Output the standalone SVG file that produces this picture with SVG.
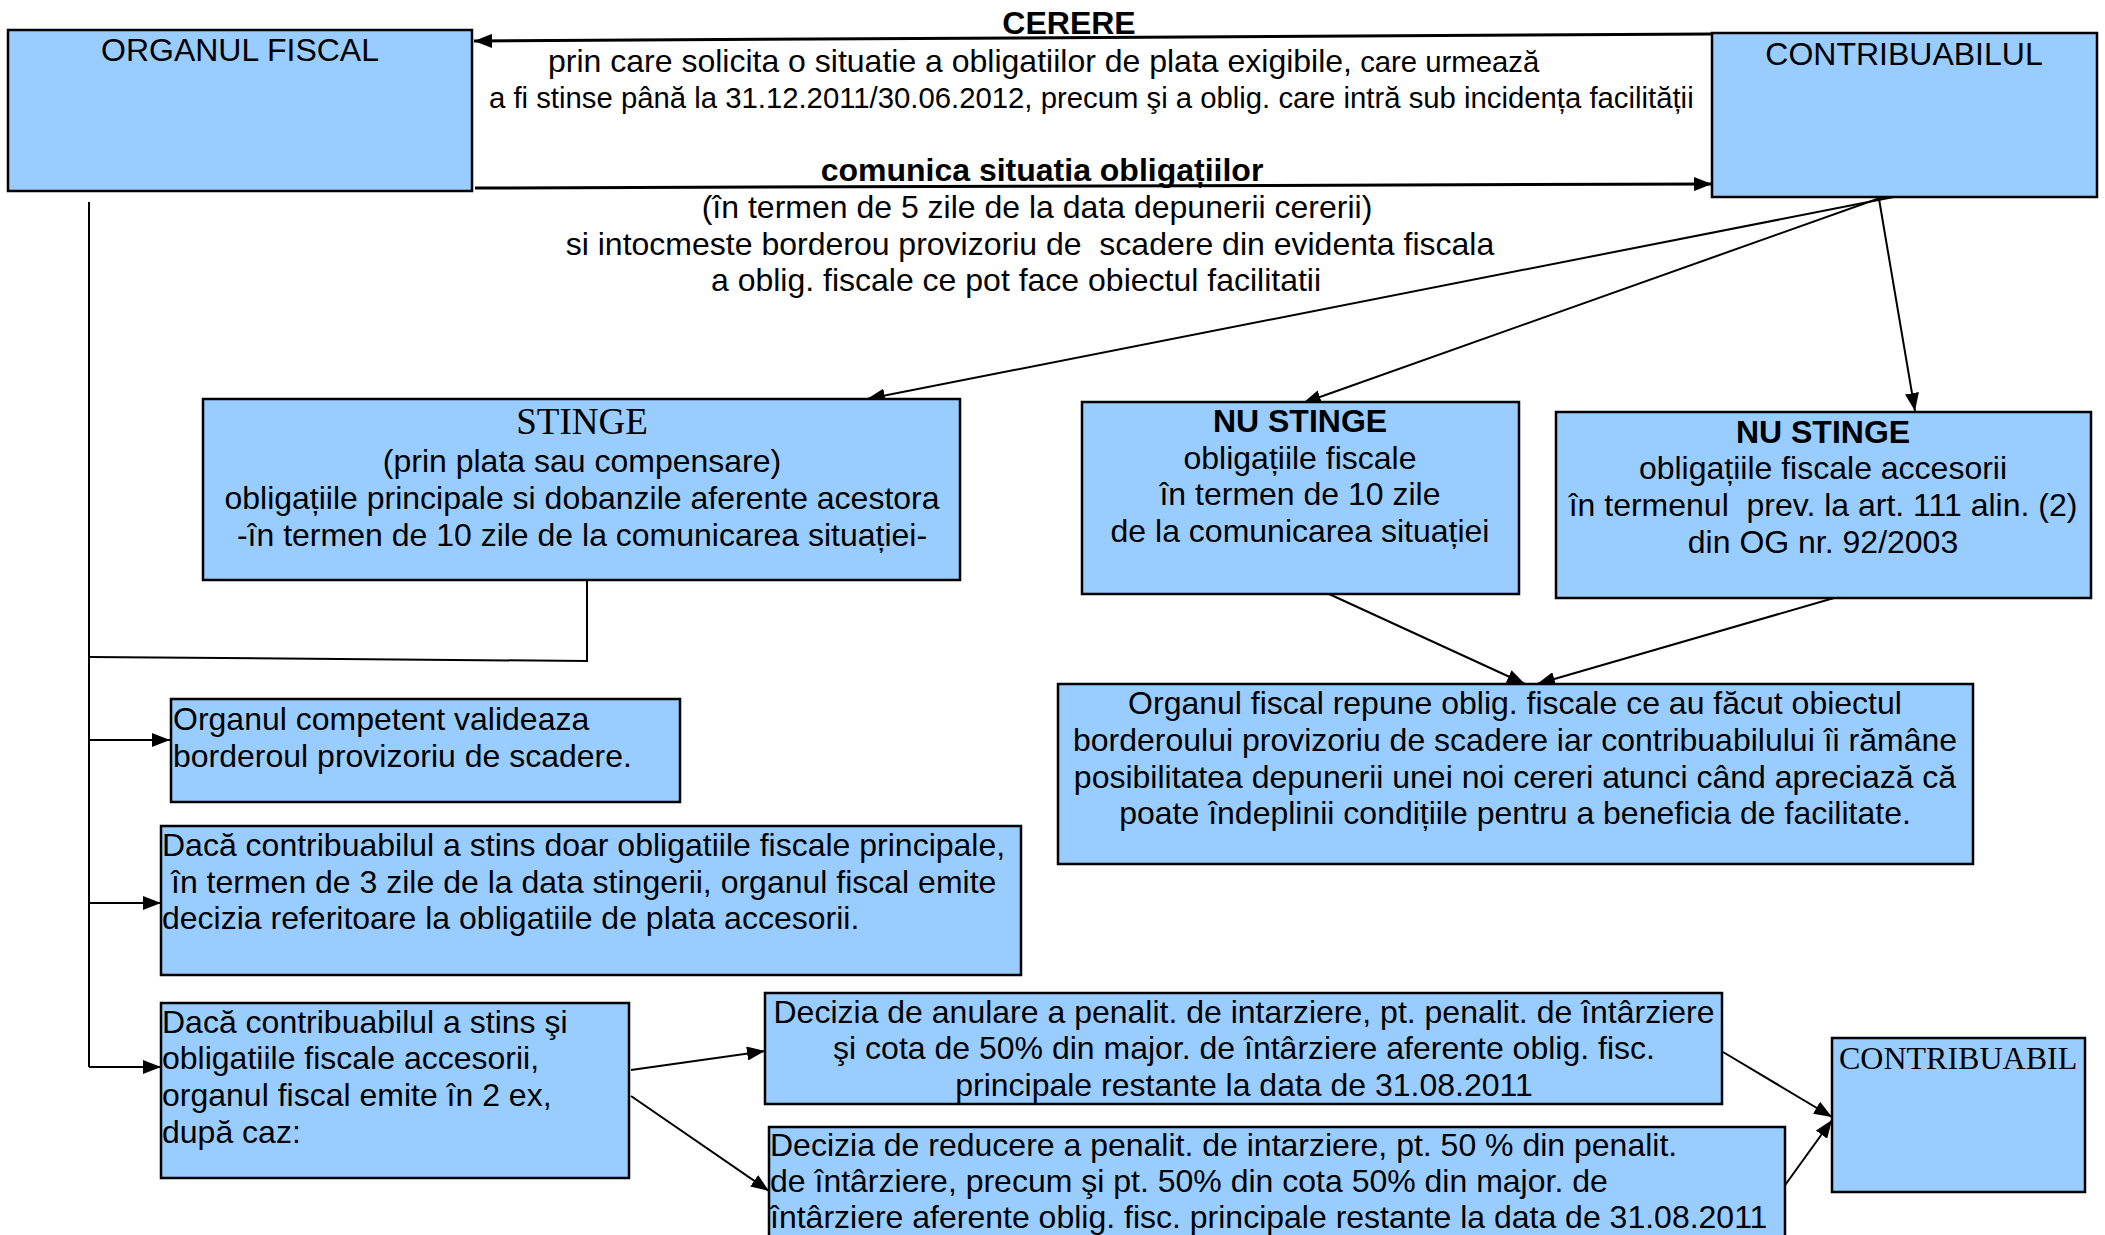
<svg xmlns="http://www.w3.org/2000/svg" width="2105" height="1235" viewBox="0 0 2105 1235">
<style>
.box{fill:#99CCFF;stroke:#000;stroke-width:2.5}
.t{font-family:"Liberation Sans",Arial,sans-serif;font-size:32px;fill:#000}
.c{text-anchor:middle}
.b{font-weight:bold}
.s{font-family:"Liberation Serif","Times New Roman",serif;fill:#000}
.sm{font-size:29.3px}
.ln{fill:none;stroke:#000;stroke-width:2}
.thk{stroke-width:3}
</style>
<defs>
<marker id="ah" markerUnits="userSpaceOnUse" markerWidth="18" markerHeight="14" refX="18" refY="7" viewBox="0 0 18 14" orient="auto">
<path d="M0,0 L18,7 L0,14 z" fill="#000"/>
</marker>
</defs>
<rect width="2105" height="1235" fill="#fff"/>

<g id="connectors">
<line class="ln thk" x1="1712" y1="34" x2="474" y2="41" marker-end="url(#ah)"/>
<line class="ln thk" x1="475" y1="188" x2="1712" y2="184" marker-end="url(#ah)"/>
<line class="ln" x1="1914" y1="193" x2="867" y2="399" marker-end="url(#ah)"/>
<line class="ln" x1="1894" y1="193" x2="1303" y2="403" marker-end="url(#ah)"/>
<line class="ln" x1="1878" y1="193" x2="1915" y2="411" marker-end="url(#ah)"/>
<line class="ln" x1="1329" y1="594" x2="1525" y2="684" marker-end="url(#ah)"/>
<line class="ln" x1="1834" y1="598" x2="1537" y2="684" marker-end="url(#ah)"/>
<line class="ln" x1="89" y1="202" x2="89" y2="1067"/>
<polyline class="ln" points="587,580 587,661 89,657"/>
<line class="ln" x1="89" y1="740" x2="170" y2="740" marker-end="url(#ah)"/>
<line class="ln" x1="89" y1="903" x2="161" y2="903" marker-end="url(#ah)"/>
<line class="ln" x1="89" y1="1067" x2="161" y2="1067" marker-end="url(#ah)"/>
<line class="ln" x1="631" y1="1070" x2="765" y2="1051" marker-end="url(#ah)"/>
<line class="ln" x1="631" y1="1096" x2="769" y2="1191" marker-end="url(#ah)"/>
<line class="ln" x1="1723" y1="1052" x2="1832" y2="1117" marker-end="url(#ah)"/>
<line class="ln" x1="1783" y1="1188" x2="1832" y2="1120" marker-end="url(#ah)"/>
</g>

<g id="edge-labels">
<text class="t b c" x="1069" y="34">CERERE</text>
<text class="t" x="548" y="72">prin care solicita o situatie a obligatiilor de plata exigibile,<tspan class="sm"> care urmează</tspan></text>
<text class="t sm" x="489" y="108">a fi stinse până la 31.12.2011/30.06.2012, precum şi a oblig. care intră sub incidența facilității</text>
<text class="t b c" x="1042" y="181">comunica situatia obligațiilor</text>
<text class="t c" x="1037" y="218">(în termen de 5 zile de la data depunerii cererii)</text>
<text class="t c" x="1030" y="255" xml:space="preserve">si intocmeste borderou provizoriu de  scadere din evidenta fiscala</text>
<text class="t c" x="1016" y="291">a oblig. fiscale ce pot face obiectul facilitatii</text>
</g>

<g id="organul-fiscal">
<rect class="box" x="8" y="30" width="464" height="161"/>
<text class="t c" x="240" y="61">ORGANUL FISCAL</text>
</g>

<g id="contribuabilul">
<rect class="box" x="1712" y="33" width="385" height="164"/>
<text class="t c" x="1904" y="65">CONTRIBUABILUL</text>
</g>

<g id="stinge">
<rect class="box" x="203" y="399" width="757" height="181"/>
<text class="s c" x="582" y="434" font-size="37">STINGE</text>
<text class="t c" x="582" y="472">(prin plata sau compensare)</text>
<text class="t c" x="582" y="509">obligațiile principale si dobanzile aferente acestora</text>
<text class="t c" x="582" y="546">-în termen de 10 zile de la comunicarea situației-</text>
</g>

<g id="nu-stinge-1">
<rect class="box" x="1082" y="402" width="437" height="192"/>
<text class="t b c" x="1300" y="432">NU STINGE</text>
<text class="t c" x="1300" y="469">obligațiile fiscale</text>
<text class="t c" x="1300" y="505">în termen de 10 zile</text>
<text class="t c" x="1300" y="542">de la comunicarea situației</text>
</g>

<g id="nu-stinge-2">
<rect class="box" x="1556" y="412" width="535" height="186"/>
<text class="t b c" x="1823" y="443">NU STINGE</text>
<text class="t c" x="1823" y="479">obligațiile fiscale accesorii</text>
<text class="t c" x="1823" y="516" xml:space="preserve">în termenul  prev. la art. 111 alin. (2)</text>
<text class="t c" x="1823" y="553">din OG nr. 92/2003</text>
</g>

<g id="repune">
<rect class="box" x="1058" y="684" width="915" height="180"/>
<text class="t c" x="1515" y="714">Organul fiscal repune oblig. fiscale ce au făcut obiectul</text>
<text class="t c" x="1515" y="751">borderoului provizoriu de scadere iar contribuabilului îi rămâne</text>
<text class="t c" x="1515" y="788">posibilitatea depunerii unei noi cereri atunci când apreciază că</text>
<text class="t c" x="1515" y="824">poate îndeplinii condițiile pentru a beneficia de facilitate.</text>
</g>

<g id="valideaza">
<rect class="box" x="171" y="699" width="509" height="103"/>
<text class="t" x="173" y="730">Organul competent valideaza</text>
<text class="t" x="173" y="767">borderoul provizoriu de scadere.</text>
</g>

<g id="stins-principale">
<rect class="box" x="161" y="826" width="860" height="149"/>
<text class="t" x="162" y="856">Dacă contribuabilul a stins doar obligatiile fiscale principale,</text>
<text class="t" x="171" y="893">în termen de 3 zile de la data stingerii, organul fiscal emite</text>
<text class="t" x="162" y="929">decizia referitoare la obligatiile de plata accesorii.</text>
</g>

<g id="stins-accesorii">
<rect class="box" x="161" y="1003" width="468" height="175"/>
<text class="t" x="162" y="1033">Dacă contribuabilul a stins şi</text>
<text class="t" x="162" y="1069">obligatiile fiscale accesorii,</text>
<text class="t" x="162" y="1106">organul fiscal emite în 2 ex,</text>
<text class="t" x="162" y="1143">după caz:</text>
</g>

<g id="decizia-anulare">
<rect class="box" x="765" y="993" width="957" height="111"/>
<text class="t c" x="1244" y="1023">Decizia de anulare a penalit. de intarziere, pt. penalit. de întârziere</text>
<text class="t c" x="1244" y="1059">şi cota de 50% din major. de întârziere aferente oblig. fisc.</text>
<text class="t c" x="1244" y="1096">principale restante la data de 31.08.2011</text>
</g>

<g id="decizia-reducere">
<rect class="box" x="769" y="1127" width="1016" height="130"/>
<text class="t" x="770" y="1156">Decizia de reducere a penalit. de intarziere, pt. 50 % din penalit.</text>
<text class="t" x="770" y="1192">de întârziere, precum şi pt. 50% din cota 50% din major. de</text>
<text class="t" x="770" y="1228">întârziere aferente oblig. fisc. principale restante la data de 31.08.2011</text>
</g>

<g id="contribuabil">
<rect class="box" x="1832" y="1038" width="253" height="154"/>
<text class="s" x="1839" y="1069" font-size="32">CONTRIBUABIL</text>
</g>
</svg>
